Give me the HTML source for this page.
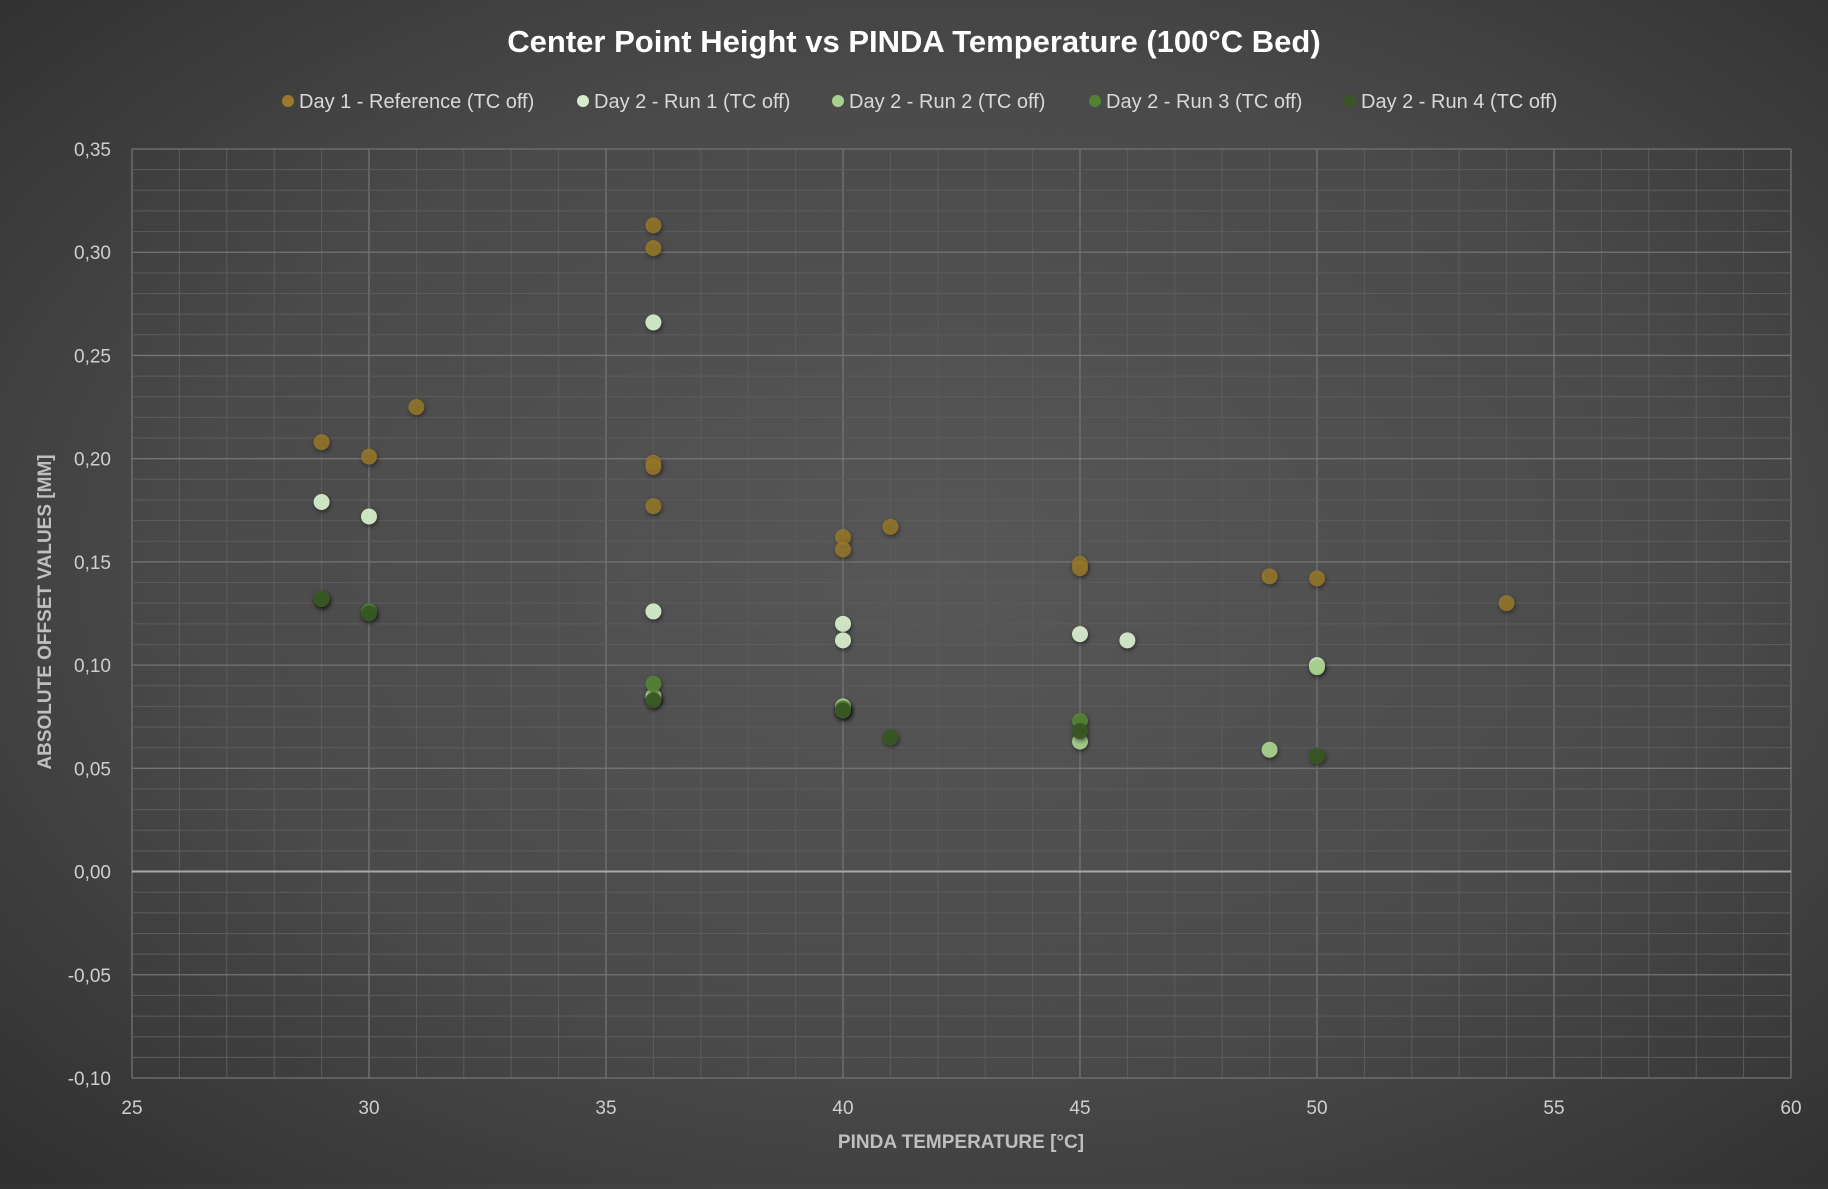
<!DOCTYPE html>
<html><head><meta charset="utf-8"><style>
html,body{margin:0;padding:0;}
body{width:1828px;height:1184px;overflow:hidden;background:radial-gradient(ellipse 75% 75% at 52% 48%,#575757 0%,#4a4a4a 55%,#2e2e2e 100%);font-family:"Liberation Sans",sans-serif;}
svg text{font-family:"Liberation Sans",sans-serif;}
</style></head><body>
<svg id="chart" width="1828" height="1184" xmlns="http://www.w3.org/2000/svg">
<text x="914" y="52" text-anchor="middle" font-size="31" font-weight="bold" fill="#ffffff">Center Point Height vs PINDA Temperature (100°C Bed)</text>
<g id="legend"></g>
<g id="grid"></g>
<g id="ticks"></g>
<g id="marks"></g>
<text x="961" y="1148" text-anchor="middle" font-size="19" font-weight="bold" fill="#bfbfbf">PINDA TEMPERATURE [°C]</text>
<text transform="translate(51,612) rotate(-90)" text-anchor="middle" font-size="19" font-weight="bold" fill="#bfbfbf">ABSOLUTE OFFSET VALUES [MM]</text>
</svg>
<script>
const seriesNames=["Day 1 - Reference (TC off)","Day 2 - Run 1 (TC off)","Day 2 - Run 2 (TC off)","Day 2 - Run 3 (TC off)","Day 2 - Run 4 (TC off)"];
const seriesColors=["#9a7a2a","#d6edcb","#a9d18e","#548235","#385723"];
const day1X=[29,30,31,36,36,36,36,36,40,40,41,45,45,49,50,54];
const day1Y=[0.208,0.201,0.225,0.313,0.302,0.198,0.196,0.177,0.162,0.156,0.167,0.149,0.147,0.143,0.142,0.130];
const run1X=[29,30,36,36,36,40,40,40,45,46,50];
const run1Y=[0.179,0.172,0.266,0.126,0.084,0.120,0.112,0.078,0.115,0.112,0.100];
const run2X=[36,40,45,49,50];
const run2Y=[0.085,0.080,0.063,0.059,0.099];
const run3X=[29,30,36,40,45];
const run3Y=[0.132,0.126,0.091,0.079,0.073];
const run4X=[29,30,36,40,41,45,50];
const run4Y=[0.132,0.125,0.083,0.078,0.065,0.068,0.056];
const xTicks=[25,30,35,40,45,50,55,60];
const yTicks=["-0,10","-0,05","0,00","0,05","0,10","0,15","0,20","0,25","0,30","0,35"];

const NS="http://www.w3.org/2000/svg";
const L=132,R=1791,T=149,B=1078,xMin=25,xMax=60,yMin=-0.10,yMax=0.35;
const sx=v=>L+(v-xMin)/(xMax-xMin)*(R-L);
const sy=v=>B-(v-yMin)/(yMax-yMin)*(B-T);
function mk(tag,attrs,parent){const e=document.createElementNS(NS,tag);for(const k in attrs)e.setAttribute(k,attrs[k]);parent.appendChild(e);return e;}
const grid=document.getElementById('grid');
for(let i=0;i<=35;i++){const x=sx(25+i);const major=i%5===0;
 const l=mk('line',{x1:x,x2:x,y1:T,y2:B,stroke:major?'#747474':'#5c5c5c','stroke-width':major?1.3:1},grid);
 
 }
for(let i=0;i<=45;i++){const v=-0.10+i*0.01;const y=sy(v);const major=i%5===0;const zero=i===10;
 const l=mk('line',{x1:L,x2:R,y1:y,y2:y,stroke:zero?'#a8a8a8':(major?'#747474':'#5c5c5c'),'stroke-width':zero?2:(major?1.3:1)},grid);
 
 }
const ticks=document.getElementById('ticks');
xTicks.forEach(t=>{const e=mk('text',{x:sx(t),y:1114,'text-anchor':'middle','font-size':19,fill:'#cfcfcf'},ticks);e.textContent=t;
 
 });
yTicks.forEach(t=>{const v=parseFloat(t.replace(',','.'));const e=mk('text',{x:111,y:sy(v)+7,'text-anchor':'end','font-size':19,fill:'#cfcfcf'},ticks);e.textContent=t;
 
 });
const marks=document.getElementById('marks');
const allX=[day1X,run1X,run2X,run3X,run4X],allY=[day1Y,run1Y,run2Y,run3Y,run4Y];
allX.forEach((xs,s)=>{xs.forEach((xv,i)=>{
 const c=mk('circle',{cx:sx(xv),cy:sy(allY[s][i]),r:8,fill:seriesColors[s],'fill-opacity':s===0?0.85:0.95,style:'filter:drop-shadow(1px 2px 2px rgba(0,0,0,0.5))'},marks);
 
 });});
const legend=document.getElementById('legend');
const lx=[288,583,838,1095,1350];
seriesNames.forEach((n,s)=>{
 const c=mk('circle',{cx:lx[s],cy:101,r:6,fill:seriesColors[s]},legend);
 
 
 const t=mk('text',{x:lx[s]+11,y:108,'font-size':20,fill:'#d9d9d9'},legend);t.textContent=n;
 
 });
</script>
</body></html>
